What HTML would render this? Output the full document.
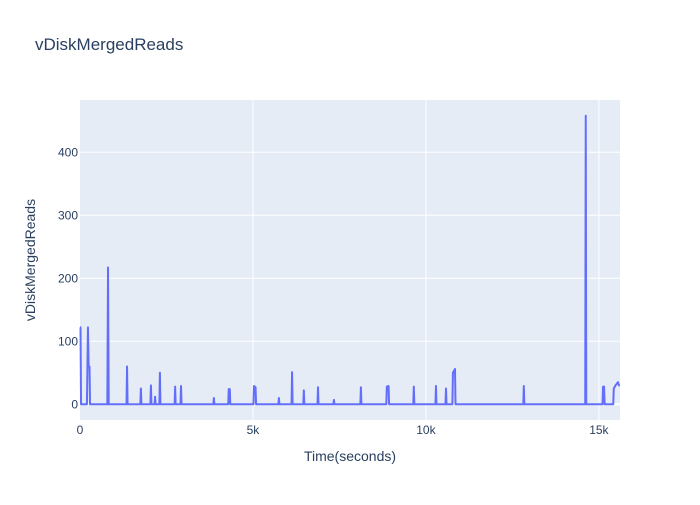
<!DOCTYPE html>
<html><head><meta charset="utf-8"><style>
body{margin:0;background:#fff;font-family:"Liberation Sans",Arial,sans-serif}
svg text{font-family:"Liberation Sans",Arial,sans-serif}
</style></head><body>
<svg id="chart" width="700" height="500" xmlns="http://www.w3.org/2000/svg">
<rect width="700" height="500" fill="#fff"/>
<text x="35" y="50" font-size="17" fill="#2a3f5f">vDiskMergedReads</text>
<rect x="80" y="100" width="540" height="320" fill="#e5ecf6"/>
<g id="grid"></g>
<g id="ticks"></g>
<path id="line" fill="none" stroke="#636efa" stroke-width="2" stroke-linejoin="round"/>
<text x="350" y="461" font-size="14" fill="#2a3f5f" text-anchor="middle">Time(seconds)</text>
<text transform="translate(35,260) rotate(-90)" font-size="14" fill="#2a3f5f" text-anchor="middle">vDiskMergedReads</text>
</svg>
<script>
const times = [0,15,30, 200,230,250,275,290,305, 790,810,830, 1345,1360,1375, 1745,1760,1775, 2035,2050,2065, 2155,2170,2185, 2295,2310,2325, 2735,2750,2765, 2905,2920,2935, 3855,3870,3885, 4285,4300,4330,4345, 5015,5030,5075,5090, 5735,5750,5765, 6115,6130,6145, 6455,6470,6485, 6865,6880,6895, 7325,7340,7355, 8105,8120,8135, 8855,8870,8920,8935, 9635,9650,9665, 10275,10290,10305, 10565,10580,10595, 10765,10780,10840,10855, 12815,12830,12845, 14605,14620,14635, 15105,15120,15150,15165, 15415,15430,15480,15550,15580,15610];
const values = [122,122,0, 0,122,60,60,0,0, 0,217,0, 0,60,0, 0,25,0, 0,30,0, 0,12,0, 0,50,0, 0,28,0, 0,29,0, 0,10,0, 0,24,24,0, 0,29,27,0, 0,10,0, 0,51,0, 0,22,0, 0,27,0, 0,7,0, 0,27,0, 0,28,29,0, 0,28,0, 0,29,0, 0,25,0, 0,50,56,0, 0,29,0, 0,458,0, 0,28,28,0, 0,25,30,35,30,30];
const xTicks = [0,5000,10000,15000];
const xTickLabels = ["0","5k","10k","15k"];
const yTicks = [0,100,200,300,400];
const yTickLabels = ["0","100","200","300","400"];
const xMin=0,xMax=15610,yMin=-25,yMax=483;
const X=v=>80+(v-xMin)/(xMax-xMin)*540;
const Y=v=>420-(v-yMin)/(yMax-yMin)*320;
const ns="http://www.w3.org/2000/svg";
const grid=document.getElementById('grid'),ticks=document.getElementById('ticks');
xTicks.forEach((t,i)=>{
 if(t>0){const l=document.createElementNS(ns,'line');
 
 
 l.setAttribute('x1',X(t));l.setAttribute('x2',X(t));l.setAttribute('y1',100);l.setAttribute('y2',420);
 l.setAttribute('stroke','#fff');l.setAttribute('stroke-width',1);grid.appendChild(l);}
 const tx=document.createElementNS(ns,'text');
 
 
 tx.setAttribute('x',X(t));tx.setAttribute('y',434);tx.setAttribute('font-size',12);tx.setAttribute('fill','#2a3f5f');tx.setAttribute('text-anchor','middle');
 tx.textContent=xTickLabels[i];ticks.appendChild(tx);
});
yTicks.forEach((t,i)=>{
 const l=document.createElementNS(ns,'line');
 
 
 l.setAttribute('x1',80);l.setAttribute('x2',620);l.setAttribute('y1',Y(t));l.setAttribute('y2',Y(t));
 l.setAttribute('stroke','#fff');l.setAttribute('stroke-width',t===0?2:1);grid.appendChild(l);
 const tx=document.createElementNS(ns,'text');
 
 
 tx.setAttribute('x',78);tx.setAttribute('y',Y(t)+4);tx.setAttribute('font-size',12);tx.setAttribute('fill','#2a3f5f');tx.setAttribute('text-anchor','end');
 tx.textContent=yTickLabels[i];ticks.appendChild(tx);
});
let d='';
times.forEach((t,i)=>{d+=(i?'L':'M')+X(t).toFixed(2)+','+Y(values[i]).toFixed(2);});
document.getElementById('line').setAttribute('d',d);
</script>
</body></html>
